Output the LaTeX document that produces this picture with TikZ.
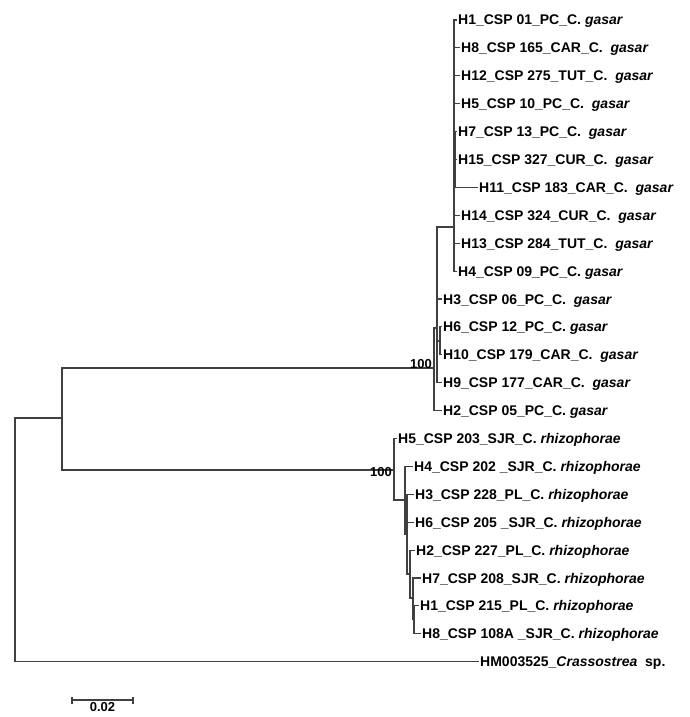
\documentclass[tikz,border=0pt]{standalone}
\usepackage{fontspec}
\setmainfont{Liberation Sans}
\usetikzlibrary{calc}

\begin{document}
\begin{tikzpicture}[x=1pt, y=-1pt,
  branch/.style={draw=black!75, line width=1.1pt},
  taxon/.style={anchor=west, inner sep=1pt, text height=10pt, text depth=0pt,
    font=\fontsize{14}{16}\selectfont\bfseries},
  boot/.style={font=\fontsize{13}{15}\selectfont\bfseries, inner sep=1pt}]
  \useasboundingbox (0,0) rectangle (689,717);

  % inner nodes of the tree
  \coordinate (root) at (15,540);
  \coordinate (ingroup) at (62,418);
  \coordinate (gasar) at (434,368);
  \coordinate (gD) at (437,328);
  \coordinate (gF) at (440,341);
  \coordinate (gB) at (454,227);
  \coordinate (gC) at (455,160);
  \coordinate (rhizo) at (394,470);
  \coordinate (rA) at (405,500);
  \coordinate (rB) at (407,534);
  \coordinate (rC) at (410,574);
  \coordinate (rD) at (413,598);
  \coordinate (rE) at (414,619);

  % C. gasar haplotypes
  \node[taxon] (gH1) at (457,20) {H1\_CSP 01\_PC\_C. \textit{gasar}};
  \node[taxon] (gH8) at (460,47.9) {H8\_CSP 165\_CAR\_C.\ \ \textit{gasar}};
  \node[taxon] (gH12) at (460,75.8) {H12\_CSP 275\_TUT\_C.\ \ \textit{gasar}};
  \node[taxon] (gH5) at (460,103.7) {H5\_CSP 10\_PC\_C.\ \ \textit{gasar}};
  \node[taxon] (gH7) at (457,131.6) {H7\_CSP 13\_PC\_C.\ \ \textit{gasar}};
  \node[taxon] (gH15) at (457,159.5) {H15\_CSP 327\_CUR\_C.\ \ \textit{gasar}};
  \node[taxon] (gH11) at (478,187.4) {H11\_CSP 183\_CAR\_C.\ \ \textit{gasar}};
  \node[taxon] (gH14) at (460,215.3) {H14\_CSP 324\_CUR\_C.\ \ \textit{gasar}};
  \node[taxon] (gH13) at (460,243.2) {H13\_CSP 284\_TUT\_C.\ \ \textit{gasar}};
  \node[taxon] (gH4) at (457,271.1) {H4\_CSP 09\_PC\_C. \textit{gasar}};
  \node[taxon] (gH3) at (442,299) {H3\_CSP 06\_PC\_C.\ \ \textit{gasar}};
  \node[taxon] (gH6) at (442,326.9) {H6\_CSP 12\_PC\_C. \textit{gasar}};
  \node[taxon] (gH10) at (442,354.8) {H10\_CSP 179\_CAR\_C.\ \ \textit{gasar}};
  \node[taxon] (gH9) at (442,382.7) {H9\_CSP 177\_CAR\_C.\ \ \textit{gasar}};
  \node[taxon] (gH2) at (442,410.6) {H2\_CSP 05\_PC\_C. \textit{gasar}};

  % C. rhizophorae haplotypes
  \node[taxon] (rH5) at (397,438.5) {H5\_CSP 203\_SJR\_C. \textit{rhizophorae}};
  \node[taxon] (rH4) at (413,466.4) {H4\_CSP 202 \_SJR\_C. \textit{rhizophorae}};
  \node[taxon] (rH3) at (414,494.3) {H3\_CSP 228\_PL\_C. \textit{rhizophorae}};
  \node[taxon] (rH6) at (414,522.2) {H6\_CSP 205 \_SJR\_C. \textit{rhizophorae}};
  \node[taxon] (rH2) at (415,550.1) {H2\_CSP 227\_PL\_C. \textit{rhizophorae}};
  \node[taxon] (rH7) at (421,578) {H7\_CSP 208\_SJR\_C. \textit{rhizophorae}};
  \node[taxon] (rH1) at (419,605.9) {H1\_CSP 215\_PL\_C. \textit{rhizophorae}};
  \node[taxon] (rH8) at (421,633.8) {H8\_CSP 108A \_SJR\_C. \textit{rhizophorae}};

  % outgroup
  \node[taxon] (outgroup) at (479,661.7) {HM003525\_\textit{Crassostrea}\ \ sp.};

  % branches
  \draw[branch] (root) |- (ingroup);
  \draw[branch] (root) |- (outgroup.west);
  \draw[branch] (ingroup) |- (gasar);
  \draw[branch] (ingroup) |- (rhizo);

  \draw[branch] (gasar) |- (gD);
  \draw[branch] (gasar) |- (gH2.west);
  \draw[branch] (gD) |- (gB);
  \draw[branch] (gD) |- (gH3.west);
  \draw[branch] (gD) |- (gF);
  \draw[branch] (gD) |- (gH9.west);
  \draw[branch] (gF) |- (gH6.west);
  \draw[branch] (gF) |- (gH10.west);
  \draw[branch] (gB) |- (gH1.west);
  \draw[branch] (gB) |- (gH8.west);
  \draw[branch] (gB) |- (gH12.west);
  \draw[branch] (gB) |- (gH5.west);
  \draw[branch] (gB) |- (gC);
  \draw[branch] (gB) |- (gH14.west);
  \draw[branch] (gB) |- (gH13.west);
  \draw[branch] (gB) |- (gH4.west);
  \draw[branch] (gC) |- (gH7.west);
  \draw[branch] (gC) |- (gH15.west);
  \draw[branch] (gC) |- (gH11.west);

  \draw[branch] (rhizo) |- (rH5.west);
  \draw[branch] (rhizo) |- (rA);
  \draw[branch] (rA) |- (rH4.west);
  \draw[branch] (rA) |- (rB);
  \draw[branch] (rB) |- (rH3.west);
  \draw[branch] (rB) |- (rH6.west);
  \draw[branch] (rB) |- (rC);
  \draw[branch] (rC) |- (rH2.west);
  \draw[branch] (rC) |- (rD);
  \draw[branch] (rD) |- (rH7.west);
  \draw[branch] (rD) |- (rE);
  \draw[branch] (rE) |- (rH1.west);
  \draw[branch] (rE) |- (rH8.west);

  % bootstrap values
  \node[boot, anchor=south east] (bootgasar) at ([xshift=-1pt,yshift=-2pt]gasar) {100};
  \node[boot, anchor=north east] (bootrhizo) at ([xshift=-1pt,yshift=4pt]rhizo) {100};

  % scale bar
  \coordinate (barL) at (72,700);
  \coordinate (barR) at (133,700);
  \draw[branch] (barL) -- (barR);
  \draw[branch] ([yshift=-3.5pt]barL) -- ([yshift=3.5pt]barL);
  \draw[branch] ([yshift=-3.5pt]barR) -- ([yshift=3.5pt]barR);
  \node[boot, below=1pt] (barlabel) at ($(barL)!0.5!(barR)$) {0.02};
\end{tikzpicture}
\end{document}
